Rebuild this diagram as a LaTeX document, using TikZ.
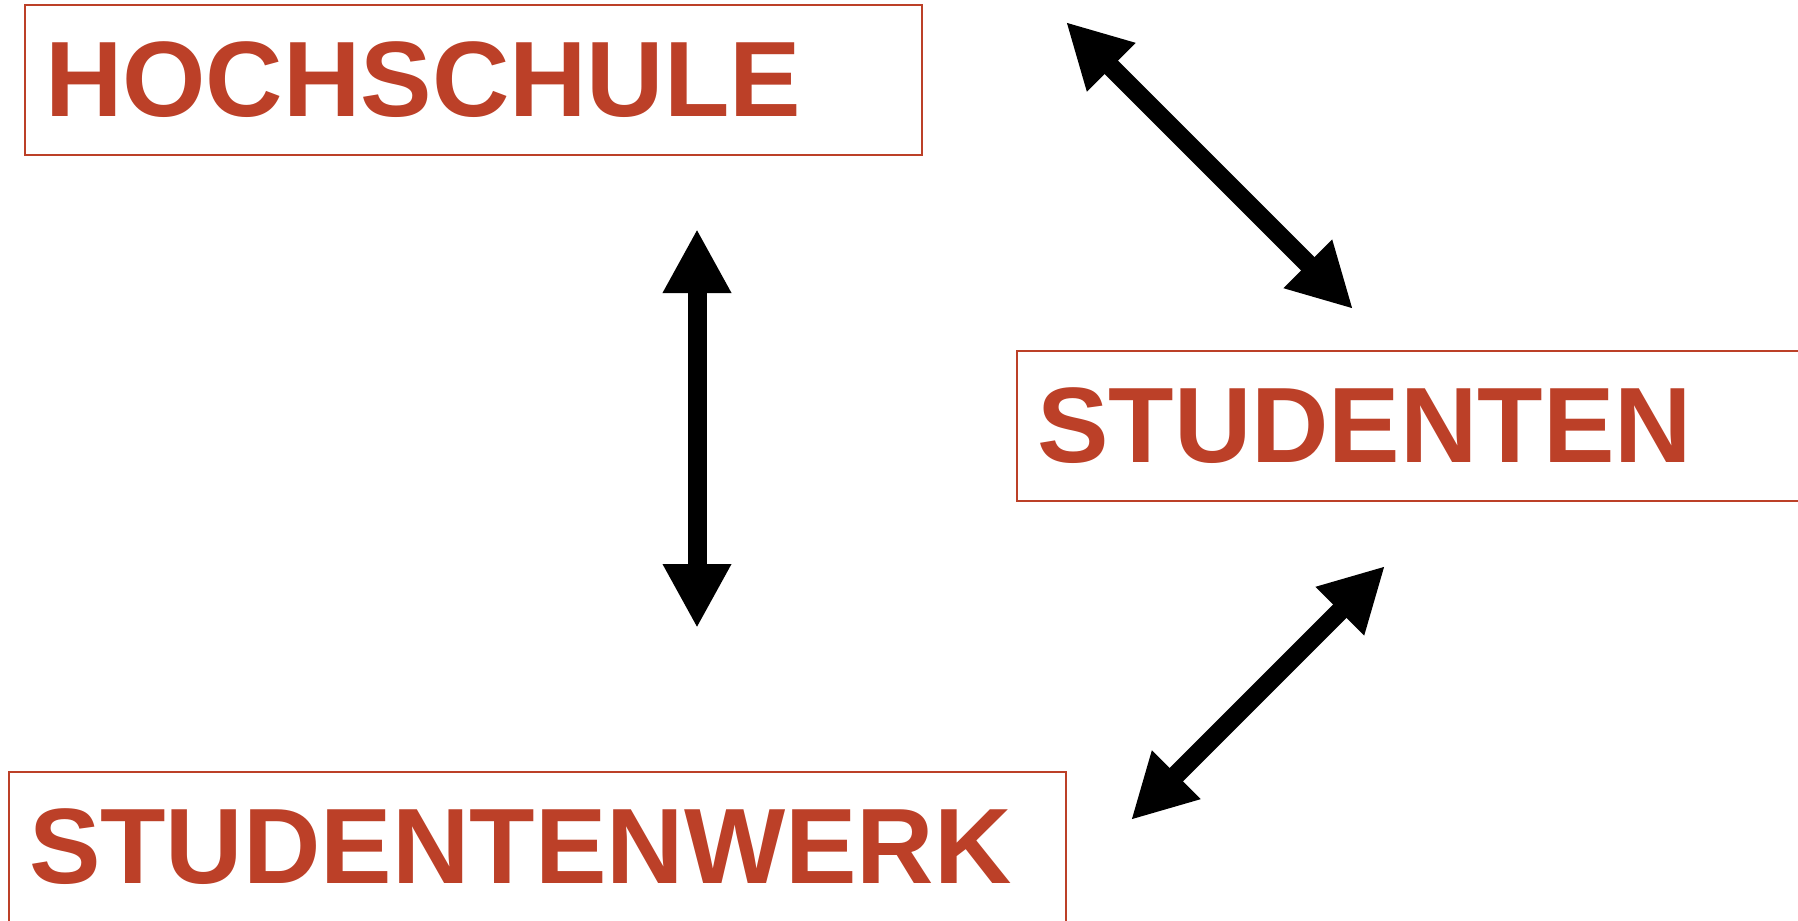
\documentclass[tikz,border=0pt]{standalone}
\usepackage{fontspec}
\setmainfont{Liberation Sans}
\usetikzlibrary{arrows.meta}
\definecolor{rust}{RGB}{188,64,40}
\tikzset{
  box/.style={draw=rust, line width=0.6pt, text=rust, inner xsep=0.2cm, inner ysep=0pt,
    minimum height=1.5cm, align=left, font=\bfseries\fontsize{30.5}{36}\selectfont},
  link/.style={{Triangle[length=6.4mm,width=6.4mm]}-{Triangle[length=6.4mm,width=6.4mm]},
    line width=1.9mm, color=black}
}

\begin{document}
\begin{tikzpicture}
    \useasboundingbox (0,0) rectangle (17.98,9.2);
    \clip (0,0) rectangle (17.98,9.2)
    (6.97,6.91) node (4) {}
    (6.97,2.92) node (5) {}
    (10.66,8.98) node (6) {}
    (13.53,6.11) node (7) {}
    (13.85,3.54) node (8) {}
    (11.31,1.00) node (9) {};

    \node[box, text width=8.57cm] (1) at (4.735,8.40) {HOCHSCHULE};
    \node[box, text width=8.57cm] (2) at (14.655,4.94) {STUDENTEN};
    \node[box, text width=10.17cm] (3) at (5.375,0.73) {STUDENTENWERK};

    \draw[link] (4.center) -- (5.center);
    \draw[link] (6.center) -- (7.center);
    \draw[link] (8.center) -- (9.center);

  \end{tikzpicture}
\end{document}
